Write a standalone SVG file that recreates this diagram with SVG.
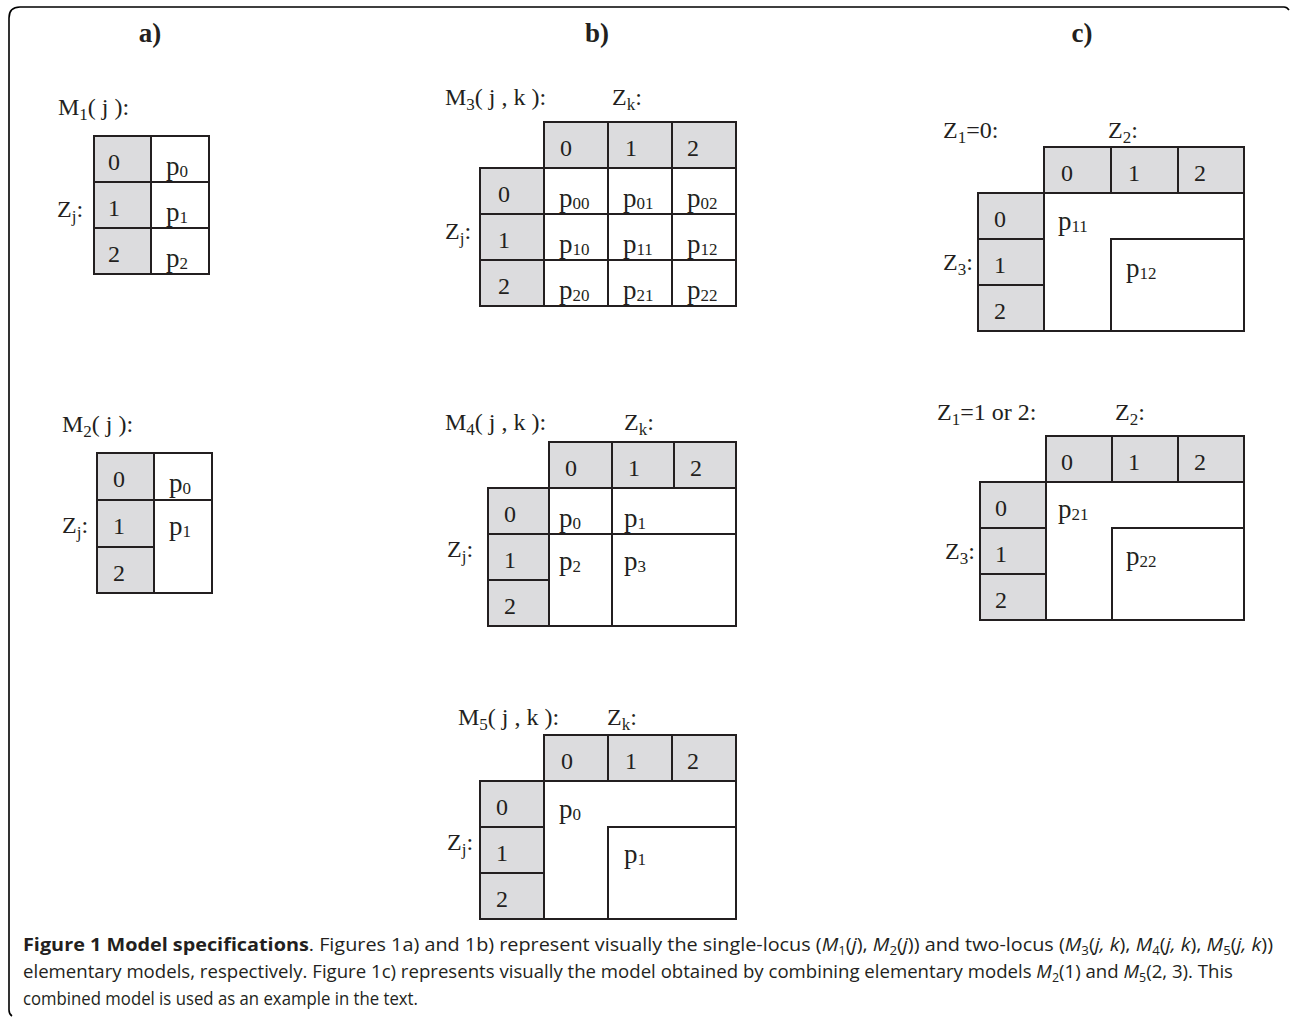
<svg xmlns="http://www.w3.org/2000/svg" width="1290" height="1017" viewBox="0 0 1290 1017">
<style>
.g{fill:#dcdcde;stroke:#231f20;stroke-width:2}
.w{fill:#ffffff;stroke:#231f20;stroke-width:2}
.t{font-family:"Liberation Serif","DejaVu Serif",serif;font-size:24px;fill:#231f20}
.p{font-family:"Liberation Serif","DejaVu Serif",serif;font-size:27px;fill:#231f20}
.s{font-size:17px}
.h{font-family:"Liberation Serif","DejaVu Serif",serif;font-size:27px;font-weight:bold;fill:#231f20;text-anchor:middle}
.cap{font-family:"Open Sans","Liberation Sans",sans-serif;font-size:18px;fill:#231f20}
.b{fill:none;stroke:#000;stroke-width:1.6}
</style>
<rect width="1290" height="1017" fill="#fff"/>
<path class="b" d="M9,1010 L9,18 Q9,7 20,7 L1284,7 Q1287,7 1289,10"/>
<path class="b" d="M9,1010 Q9,1014 12,1016" stroke-width="1"/>

<g id="labels">
<text class="h" x="150" y="42">a)</text>
<text class="h" x="597" y="42">b)</text>
<text class="h" x="1082" y="42">c)</text>
</g>

<g id="m1">
<text class="t" x="58" y="115">M<tspan class="s" dy="5">1</tspan><tspan dy="-5">( j ):</tspan></text>
<text class="t" x="57" y="217">Z<tspan class="s" dy="5">j</tspan><tspan dy="-5">:</tspan></text>
<rect class="g" x="94" y="136" width="57" height="46"/>
<rect class="g" x="94" y="182" width="57" height="46"/>
<rect class="g" x="94" y="228" width="57" height="46"/>
<rect class="w" x="151" y="136" width="58" height="46"/>
<rect class="w" x="151" y="182" width="58" height="46"/>
<rect class="w" x="151" y="228" width="58" height="46"/>
<text class="t" x="108" y="170">0</text>
<text class="t" x="108" y="216">1</text>
<text class="t" x="108" y="262">2</text>
<text class="p" x="166" y="175">p<tspan class="s" dy="2">0</tspan></text>
<text class="p" x="166" y="221">p<tspan class="s" dy="2">1</tspan></text>
<text class="p" x="166" y="267">p<tspan class="s" dy="2">2</tspan></text>
</g>

<g id="m2">
<text class="t" x="62" y="432">M<tspan class="s" dy="5">2</tspan><tspan dy="-5">( j ):</tspan></text>
<text class="t" x="62" y="533">Z<tspan class="s" dy="5">j</tspan><tspan dy="-5">:</tspan></text>
<rect class="g" x="97" y="453" width="57" height="47"/>
<rect class="g" x="97" y="500" width="57" height="47"/>
<rect class="g" x="97" y="547" width="57" height="46"/>
<rect class="w" x="154" y="453" width="58" height="47"/>
<rect class="w" x="154" y="500" width="58" height="93"/>
<text class="t" x="113" y="487">0</text>
<text class="t" x="113" y="534">1</text>
<text class="t" x="113" y="581">2</text>
<text class="p" x="169" y="492">p<tspan class="s" dy="2">0</tspan></text>
<text class="p" x="169" y="535">p<tspan class="s" dy="2">1</tspan></text>
</g>

<g id="m3">
<text class="t" x="445" y="105">M<tspan class="s" dy="5">3</tspan><tspan dy="-5">( j , k ):</tspan></text>
<text class="t" x="612" y="105">Z<tspan class="s" dy="5">k</tspan><tspan dy="-5">:</tspan></text>
<text class="t" x="445" y="239">Z<tspan class="s" dy="5">j</tspan><tspan dy="-5">:</tspan></text>
<rect class="g" x="544" y="122" width="64" height="46"/>
<rect class="g" x="608" y="122" width="64" height="46"/>
<rect class="g" x="672" y="122" width="64" height="46"/>
<rect class="g" x="480" y="168" width="64" height="46"/>
<rect class="g" x="480" y="214" width="64" height="46"/>
<rect class="g" x="480" y="260" width="64" height="46"/>
<rect class="w" x="544" y="168" width="64" height="46"/>
<rect class="w" x="608" y="168" width="64" height="46"/>
<rect class="w" x="672" y="168" width="64" height="46"/>
<rect class="w" x="544" y="214" width="64" height="46"/>
<rect class="w" x="608" y="214" width="64" height="46"/>
<rect class="w" x="672" y="214" width="64" height="46"/>
<rect class="w" x="544" y="260" width="64" height="46"/>
<rect class="w" x="608" y="260" width="64" height="46"/>
<rect class="w" x="672" y="260" width="64" height="46"/>
<text class="t" x="560" y="156">0</text>
<text class="t" x="625" y="156">1</text>
<text class="t" x="687" y="156">2</text>
<text class="t" x="498" y="202">0</text>
<text class="t" x="498" y="248">1</text>
<text class="t" x="498" y="294">2</text>
<text class="p" x="559" y="207">p<tspan class="s" dy="2">00</tspan></text>
<text class="p" x="623" y="207">p<tspan class="s" dy="2">01</tspan></text>
<text class="p" x="687" y="207">p<tspan class="s" dy="2">02</tspan></text>
<text class="p" x="559" y="253">p<tspan class="s" dy="2">10</tspan></text>
<text class="p" x="623" y="253">p<tspan class="s" dy="2">11</tspan></text>
<text class="p" x="687" y="253">p<tspan class="s" dy="2">12</tspan></text>
<text class="p" x="559" y="299">p<tspan class="s" dy="2">20</tspan></text>
<text class="p" x="623" y="299">p<tspan class="s" dy="2">21</tspan></text>
<text class="p" x="687" y="299">p<tspan class="s" dy="2">22</tspan></text>
</g>

<g id="m4">
<text class="t" x="445" y="430">M<tspan class="s" dy="5">4</tspan><tspan dy="-5">( j , k ):</tspan></text>
<text class="t" x="624" y="430">Z<tspan class="s" dy="5">k</tspan><tspan dy="-5">:</tspan></text>
<text class="t" x="447" y="557">Z<tspan class="s" dy="5">j</tspan><tspan dy="-5">:</tspan></text>
<rect class="g" x="549" y="442" width="63" height="46"/>
<rect class="g" x="612" y="442" width="62" height="46"/>
<rect class="g" x="674" y="442" width="62" height="46"/>
<rect class="g" x="488" y="488" width="61" height="46"/>
<rect class="g" x="488" y="534" width="61" height="46"/>
<rect class="g" x="488" y="580" width="61" height="46"/>
<rect class="w" x="549" y="488" width="63" height="46"/>
<rect class="w" x="612" y="488" width="124" height="46"/>
<rect class="w" x="549" y="534" width="63" height="92"/>
<rect class="w" x="612" y="534" width="124" height="92"/>
<text class="t" x="565" y="476">0</text>
<text class="t" x="628" y="476">1</text>
<text class="t" x="690" y="476">2</text>
<text class="t" x="504" y="522">0</text>
<text class="t" x="504" y="568">1</text>
<text class="t" x="504" y="614">2</text>
<text class="p" x="559" y="527">p<tspan class="s" dy="2">0</tspan></text>
<text class="p" x="624" y="527">p<tspan class="s" dy="2">1</tspan></text>
<text class="p" x="559" y="570">p<tspan class="s" dy="2">2</tspan></text>
<text class="p" x="624" y="570">p<tspan class="s" dy="2">3</tspan></text>
</g>

<g id="m5">
<text class="t" x="458" y="725">M<tspan class="s" dy="5">5</tspan><tspan dy="-5">( j , k ):</tspan></text>
<text class="t" x="607" y="725">Z<tspan class="s" dy="5">k</tspan><tspan dy="-5">:</tspan></text>
<text class="t" x="447" y="850">Z<tspan class="s" dy="5">j</tspan><tspan dy="-5">:</tspan></text>
<rect class="g" x="544" y="735" width="64" height="46"/>
<rect class="g" x="608" y="735" width="64" height="46"/>
<rect class="g" x="672" y="735" width="64" height="46"/>
<rect class="g" x="480" y="781" width="64" height="46"/>
<rect class="g" x="480" y="827" width="64" height="46"/>
<rect class="g" x="480" y="873" width="64" height="46"/>
<path class="w" d="M544,781 H736 V827 H608 V919 H544 Z"/>
<rect class="w" x="608" y="827" width="128" height="92"/>
<text class="t" x="561" y="769">0</text>
<text class="t" x="625" y="769">1</text>
<text class="t" x="687" y="769">2</text>
<text class="t" x="496" y="815">0</text>
<text class="t" x="496" y="861">1</text>
<text class="t" x="496" y="907">2</text>
<text class="p" x="559" y="818">p<tspan class="s" dy="2">0</tspan></text>
<text class="p" x="624" y="863">p<tspan class="s" dy="2">1</tspan></text>
</g>

<g id="c1">
<text class="t" x="943" y="138">Z<tspan class="s" dy="5">1</tspan><tspan dy="-5">=0:</tspan></text>
<text class="t" x="1108" y="138">Z<tspan class="s" dy="5">2</tspan><tspan dy="-5">:</tspan></text>
<text class="t" x="943" y="270">Z<tspan class="s" dy="5">3</tspan><tspan dy="-5">:</tspan></text>
<rect class="g" x="1044" y="147" width="67" height="46"/>
<rect class="g" x="1111" y="147" width="67" height="46"/>
<rect class="g" x="1178" y="147" width="66" height="46"/>
<rect class="g" x="978" y="193" width="66" height="46"/>
<rect class="g" x="978" y="239" width="66" height="46"/>
<rect class="g" x="978" y="285" width="66" height="46"/>
<path class="w" d="M1044,193 H1244 V239 H1111 V331 H1044 Z"/>
<rect class="w" x="1111" y="239" width="133" height="92"/>
<text class="t" x="1061" y="181">0</text>
<text class="t" x="1128" y="181">1</text>
<text class="t" x="1194" y="181">2</text>
<text class="t" x="994" y="227">0</text>
<text class="t" x="994" y="273">1</text>
<text class="t" x="994" y="319">2</text>
<text class="p" x="1058" y="230">p<tspan class="s" dy="2">11</tspan></text>
<text class="p" x="1126" y="277">p<tspan class="s" dy="2">12</tspan></text>
</g>

<g id="c2">
<text class="t" x="937" y="420">Z<tspan class="s" dy="5">1</tspan><tspan dy="-5">=1 or 2:</tspan></text>
<text class="t" x="1115" y="420">Z<tspan class="s" dy="5">2</tspan><tspan dy="-5">:</tspan></text>
<text class="t" x="945" y="559">Z<tspan class="s" dy="5">3</tspan><tspan dy="-5">:</tspan></text>
<rect class="g" x="1046" y="436" width="66" height="46"/>
<rect class="g" x="1112" y="436" width="66" height="46"/>
<rect class="g" x="1178" y="436" width="66" height="46"/>
<rect class="g" x="980" y="482" width="66" height="46"/>
<rect class="g" x="980" y="528" width="66" height="46"/>
<rect class="g" x="980" y="574" width="66" height="46"/>
<path class="w" d="M1046,482 H1244 V528 H1112 V620 H1046 Z"/>
<rect class="w" x="1112" y="528" width="132" height="92"/>
<text class="t" x="1061" y="470">0</text>
<text class="t" x="1128" y="470">1</text>
<text class="t" x="1194" y="470">2</text>
<text class="t" x="995" y="516">0</text>
<text class="t" x="995" y="562">1</text>
<text class="t" x="995" y="608">2</text>
<text class="p" x="1058" y="518">p<tspan class="s" dy="2">21</tspan></text>
<text class="p" x="1126" y="565">p<tspan class="s" dy="2">22</tspan></text>
</g>

<g id="connectors"></g>

<g id="caption">
<text class="cap" x="23" y="951" textLength="1250" lengthAdjust="spacingAndGlyphs"><tspan font-weight="bold">Figure 1 Model specifications</tspan>. Figures 1a) and 1b) represent visually the single-locus (<tspan font-style="italic">M</tspan><tspan font-size="12" dy="4">1</tspan><tspan dy="-4">(</tspan><tspan font-style="italic">j</tspan>), <tspan font-style="italic">M</tspan><tspan font-size="12" dy="4">2</tspan><tspan dy="-4">(</tspan><tspan font-style="italic">j</tspan>)) and two-locus (<tspan font-style="italic">M</tspan><tspan font-size="12" dy="4">3</tspan><tspan dy="-4">(</tspan><tspan font-style="italic">j, k</tspan>), <tspan font-style="italic">M</tspan><tspan font-size="12" dy="4">4</tspan><tspan dy="-4">(</tspan><tspan font-style="italic">j, k</tspan>), <tspan font-style="italic">M</tspan><tspan font-size="12" dy="4">5</tspan><tspan dy="-4">(</tspan><tspan font-style="italic">j, k</tspan>))</text>
<text class="cap" x="23" y="978" textLength="1210" lengthAdjust="spacingAndGlyphs">elementary models, respectively. Figure 1c) represents visually the model obtained by combining elementary models <tspan font-style="italic">M</tspan><tspan font-size="12" dy="4">2</tspan><tspan dy="-4">(1) and </tspan><tspan font-style="italic">M</tspan><tspan font-size="12" dy="4">5</tspan><tspan dy="-4">(2, 3). This</tspan></text>
<text class="cap" x="23" y="1005" textLength="395" lengthAdjust="spacingAndGlyphs">combined model is used as an example in the text.</text>
</g>
</svg>
